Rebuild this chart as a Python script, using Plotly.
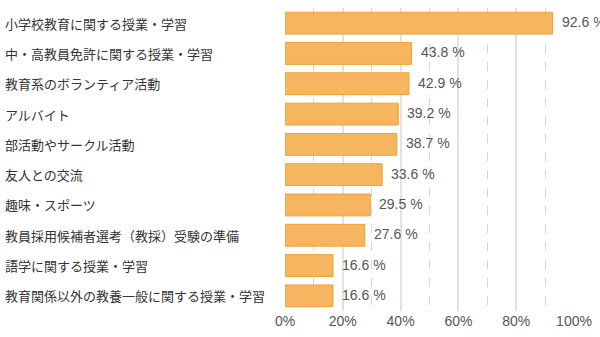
import plotly.graph_objects as go

categories = [
    "小学校教育に関する授業・学習",
    "中・高教員免許に関する授業・学習",
    "教育系のボランティア活動",
    "アルバイト",
    "部活動やサークル活動",
    "友人との交流",
    "趣味・スポーツ",
    "教員採用候補者選考（教採）受験の準備",
    "語学に関する授業・学習",
    "教育関係以外の教養一般に関する授業・学習",
]
values = [92.6, 43.8, 42.9, 39.2, 38.7, 33.6, 29.5, 27.6, 16.6, 16.6]
tick_vals = [0, 20, 40, 60, 80, 100]
tick_text = ["0%", "20%", "40%", "60%", "80%", "100%"]

font_family = "'Liberation Sans', Arial, 'Noto Sans CJK JP', sans-serif"
cjk_family = "'Noto Sans CJK JP', sans-serif"

fig = go.Figure(
    go.Bar(
        y=categories,
        x=values,
        orientation="h",
        marker=dict(color="#F6B660", line=dict(color="#F0A030", width=1)),
        hoverinfo="skip",
    )
)

plot_left, plot_right = 285, 585

# Value labels just to the right of each bar
for cat, val in zip(categories, values):
    fig.add_annotation(
        x=val, xref="x", y=cat, yref="y",
        text=f"{val:.1f} %",
        xanchor="left", yanchor="middle", xshift=7, yshift=1,
        showarrow=False,
        font=dict(family=font_family, size=14, color="#555555"),
    )

# Category labels, left-aligned near the figure's left edge
for cat in categories:
    fig.add_annotation(
        x=0, xref="paper", y=cat, yref="y",
        xshift=-(plot_left - 3),
        text=cat,
        xanchor="left", yanchor="middle",
        showarrow=False,
        font=dict(family=cjk_family, size=13, color="#333333"),
    )

fig.update_layout(
    width=600,
    height=337,
    margin=dict(l=plot_left, r=600 - plot_right, t=8, b=24),
    paper_bgcolor="white",
    plot_bgcolor="white",
    showlegend=False,
    bargap=0.28,
    font=dict(family=font_family),
)
fig.update_xaxes(
    range=[0, 100],
    tickvals=tick_vals,
    ticktext=tick_text,
    tickfont=dict(size=14, color="#555555"),
    ticklabeloverflow="allow",
    showgrid=True,
    gridcolor="#E3E3E3",
    gridwidth=1.5,
    zeroline=False,
    showline=False,
    minor=dict(dtick=10, tick0=0, showgrid=True, gridcolor="#D6D6D6", griddash="dash", gridwidth=1),
    fixedrange=True,
)
fig.update_yaxes(
    autorange="reversed",
    showticklabels=False,
    showgrid=False,
    zeroline=False,
    fixedrange=True,
)

fig.write_html("out.html")
